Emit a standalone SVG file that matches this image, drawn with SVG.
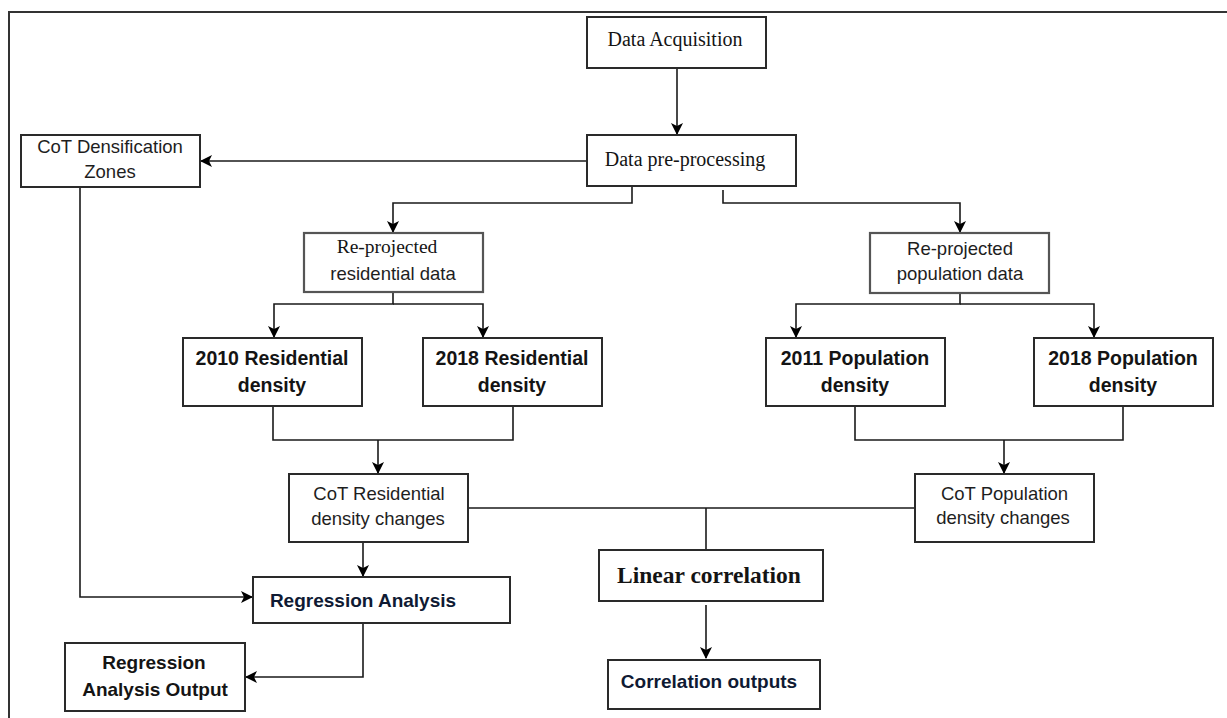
<svg xmlns="http://www.w3.org/2000/svg" width="1227" height="718" viewBox="0 0 1227 718">
<style>
.box{fill:#fff;stroke:#2a2a2a;stroke-width:2}
.box2{fill:#fff;stroke:#555;stroke-width:2.2}
.ln{fill:none;stroke:#1a1a1a;stroke-width:1.6}
.sans{font-family:"Liberation Sans",Arial,sans-serif;font-size:18.5px;fill:#1e1e1e;text-anchor:middle}
.bold{font-family:"Liberation Sans",Arial,sans-serif;font-size:19.5px;font-weight:bold;fill:#141414;text-anchor:middle}
.serif{font-family:"Liberation Serif","Times New Roman",serif;font-size:20px;fill:#141414;text-anchor:middle}
</style>
<defs>
<marker id="ah" viewBox="0 0 12 12" refX="11" refY="6" markerWidth="12" markerHeight="12" markerUnits="userSpaceOnUse" orient="auto">
<path d="M0,0 L12,6 L0,12 L3,6 z" fill="#000"/>
</marker>
</defs>
<rect x="9" y="12" width="1240" height="730" fill="none" stroke="#333" stroke-width="2"/>
<g id="connectors">
<path class="ln" d="M677,68 V134" marker-end="url(#ah)"/>
<path class="ln" d="M587,161 H201" marker-end="url(#ah)"/>
<path class="ln" d="M632,186 V203 H393 V232" marker-end="url(#ah)"/>
<path class="ln" d="M723,190 V203 H960 V232" marker-end="url(#ah)"/>
<path class="ln" d="M393,292 V304 H274 V337" marker-end="url(#ah)"/>
<path class="ln" d="M393,304 H483 V337" marker-end="url(#ah)"/>
<path class="ln" d="M960,293 V304 H796 V337" marker-end="url(#ah)"/>
<path class="ln" d="M960,304 H1094 V337" marker-end="url(#ah)"/>
<path class="ln" d="M273,406 V440 H513 V406"/>
<path class="ln" d="M378,440 V473" marker-end="url(#ah)"/>
<path class="ln" d="M855,406 V440 H1123 V406"/>
<path class="ln" d="M1004,440 V473" marker-end="url(#ah)"/>
<path class="ln" d="M468,508 H915"/>
<path class="ln" d="M706,508 V550"/>
<path class="ln" d="M706,605 V658" marker-end="url(#ah)"/>
<path class="ln" d="M80,187 V597 H252" marker-end="url(#ah)"/>
<path class="ln" d="M363,542 V576" marker-end="url(#ah)"/>
<path class="ln" d="M363,623 V677 H246" marker-end="url(#ah)"/>
</g>
<g id="data-acquisition">
<rect class="box" x="587" y="17" width="179" height="51"/>
<text class="serif" x="675" y="46">Data Acquisition</text>
</g>
<g id="data-preprocessing">
<rect class="box" x="587" y="135" width="209" height="51"/>
<text class="serif" x="685" y="166">Data pre-processing</text>
</g>
<g id="cot-densification">
<rect class="box" x="21" y="135" width="179" height="52"/>
<text class="sans" x="110" y="153">CoT Densification</text>
<text class="sans" x="110" y="178">Zones</text>
</g>
<g id="reprojected-residential">
<rect class="box2" x="304" y="233" width="179" height="59"/>
<text class="serif" x="387" y="253" style="font-size:19.5px">Re-projected</text>
<text class="sans" x="393" y="280">residential data</text>
</g>
<g id="reprojected-population">
<rect class="box2" x="870" y="233" width="179" height="60"/>
<text class="sans" x="960" y="255">Re-projected</text>
<text class="sans" x="960" y="280">population data</text>
</g>
<g id="res-2010">
<rect class="box" x="183" y="338" width="179" height="68"/>
<text class="bold" x="272" y="365">2010 Residential</text>
<text class="bold" x="272" y="392">density</text>
</g>
<g id="res-2018">
<rect class="box" x="423" y="338" width="179" height="68"/>
<text class="bold" x="512" y="365">2018 Residential</text>
<text class="bold" x="512" y="392">density</text>
</g>
<g id="pop-2011">
<rect class="box" x="766" y="338" width="179" height="68"/>
<text class="bold" x="855" y="365">2011 Population</text>
<text class="bold" x="855" y="392">density</text>
</g>
<g id="pop-2018">
<rect class="box" x="1034" y="338" width="179" height="68"/>
<text class="bold" x="1123" y="365">2018 Population</text>
<text class="bold" x="1123" y="392">density</text>
</g>
<g id="cot-residential-changes">
<rect class="box" x="289" y="474" width="179" height="68"/>
<text class="sans" x="379" y="500">CoT Residential</text>
<text class="sans" x="378" y="525">density changes</text>
</g>
<g id="cot-population-changes">
<rect class="box" x="915" y="474" width="179" height="68"/>
<text class="sans" x="1004.5" y="500">CoT Population</text>
<text class="sans" x="1003" y="524">density changes</text>
</g>
<g id="linear-correlation">
<rect class="box" x="599" y="550" width="224" height="51"/>
<text class="serif" x="709" y="583" style="font-size:23.5px;font-weight:bold">Linear correlation</text>
</g>
<g id="regression-analysis">
<rect class="box" x="253" y="577" width="257" height="46"/>
<text class="bold" x="363" y="607" style="font-size:19px;fill:#0f1a33">Regression Analysis</text>
</g>
<g id="regression-output">
<rect class="box" x="65" y="643" width="180" height="68"/>
<text class="bold" x="154" y="669" style="font-size:19px">Regression</text>
<text class="bold" x="155" y="696" style="font-size:19px">Analysis Output</text>
</g>
<g id="correlation-outputs">
<rect class="box" x="608" y="660" width="212" height="49"/>
<text class="bold" x="709" y="688" style="font-size:19px;fill:#0f1a33">Correlation outputs</text>
</g>
</svg>
